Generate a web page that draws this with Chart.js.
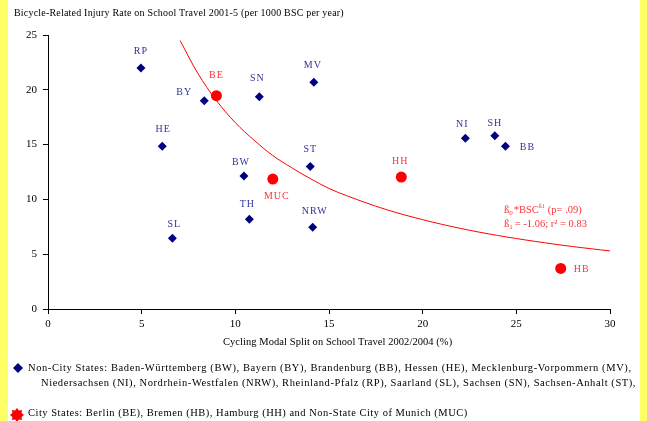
<!DOCTYPE html>
<html>
<head>
<meta charset="utf-8">
<script src="https://cdn.jsdelivr.net/npm/chart.js@4.4.1/dist/chart.umd.min.js"></script>
<style>
  html, body { margin: 0; padding: 0; background: #fff; }
  #wrap { width: 647px; height: 421px; }
</style>
</head>
<body>
<div id="wrap"><canvas id="chart" width="647" height="421"></canvas></div>
<script>
// non-city states
const nonCityLabels = ['RP', 'BY', 'SN', 'MV', 'HE', 'BW', 'ST', 'TH', 'NRW', 'SL', 'NI', 'SH', 'BB'];
const nonCityX = [4.96, 8.34, 11.28, 14.19, 6.10, 10.46, 14.0, 10.75, 14.13, 6.64, 22.28, 23.85, 24.42];
const nonCityY = [22.0, 19.0, 19.37, 20.68, 14.84, 12.14, 13.0, 8.18, 7.45, 6.45, 15.57, 15.81, 14.84];

// city states
const cityLabels = ['BE', 'MUC', 'HH', 'HB'];
const cityX = [8.99, 12.0, 18.86, 27.37];
const cityY = [19.46, 11.86, 12.04, 3.70];

// fitted power curve
const fitX = [7.05, 8, 9, 10, 11, 12, 13, 14, 15, 16, 18, 20, 22, 24, 26, 28, 30];
const fitY = [24.5, 21.5, 19.0, 17.0, 15.4, 14.0, 12.9, 11.9, 11.0, 10.3, 9.1, 8.15, 7.36, 6.71, 6.17, 5.70, 5.30];

const xTitle = 'Cycling Modal Split on School Travel 2002/2004 (%)';
const yTitle = 'Bicycle-Related Injury Rate on School Travel 2001-5 (per 1000 BSC per year)';
const legendLines = [
  'Non-City States: Baden-Württemberg (BW), Bayern (BY), Brandenburg (BB), Hessen (HE), Mecklenburg-Vorpommern (MV),',
  'Niedersachsen (NI), Nordrhein-Westfalen (NRW), Rheinland-Pfalz (RP), Saarland (SL), Sachsen (SN), Sachsen-Anhalt (ST),',
  'City States: Berlin (BE), Bremen (HB), Hamburg (HH) and Non-State City of Munich (MUC)'
];

// label offsets (px) relative to the point
const labelOffsets = {
  RP: [0, -17], BY: [-20, -8], BE: [0, -20], SN: [-2, -18], MV: [-1, -17], HE: [1, -17],
  BW: [-3, -14], ST: [0, -17], TH: [-2, -15], NRW: [2, -16], SL: [2, -14], MUC: [4, 17],
  NI: [-3, -14], SH: [0, -12], BB: [22, 1], HH: [-1, -16], HB: [21, 1]
};

const SERIF = '"Liberation Serif", "DejaVu Serif", serif';
const NAVY = '#000080';
const RED = '#FF0000';

function toPoints(xs, ys) {
  return xs.map((x, i) => ({ x: x, y: ys[i] }));
}

// draw text stretched to a target width with letter spacing
function fitText(ctx, text, x, y, width, font, color) {
  ctx.save();
  ctx.font = font;
  ctx.fillStyle = color;
  ctx.textBaseline = 'middle';
  ctx.textAlign = 'left';
  ctx.letterSpacing = '0px';
  const w = ctx.measureText(text).width;
  const sp = (width - w) / text.length;
  ctx.letterSpacing = sp.toFixed(2) + 'px';
  ctx.fillText(text, x, y);
  ctx.restore();
}

const decor = {
  id: 'decor',
  beforeDraw(chart) {
    const ctx = chart.ctx;
    ctx.save();
    ctx.fillStyle = '#FFFF66';
    ctx.fillRect(0, 0, 8, 421);
    ctx.fillRect(640, 0, 7, 421);
    ctx.restore();
  },
  afterDatasetsDraw(chart) {
    const ctx = chart.ctx;
    const xs = chart.scales.x, ys = chart.scales.y;

    // point labels
    ctx.save();
    ctx.font = '10px ' + SERIF;
    ctx.textAlign = 'center';
    ctx.textBaseline = 'middle';
    ctx.letterSpacing = '1px';
    const drawLabels = (labels, xv, yv, color) => {
      ctx.fillStyle = color;
      labels.forEach((lab, i) => {
        const off = labelOffsets[lab] || [0, -15];
        ctx.fillText(lab, xs.getPixelForValue(xv[i]) + off[0], ys.getPixelForValue(yv[i]) + off[1]);
      });
    };
    drawLabels(nonCityLabels, nonCityX, nonCityY, '#333399');
    drawLabels(cityLabels, cityX, cityY, '#FF3333');
    ctx.restore();

    // regression note
    ctx.save();
    ctx.fillStyle = '#FF3333';
    ctx.textBaseline = 'middle';
    ctx.font = '10.5px ' + SERIF;
    let x = 504;
    ctx.fillText('ß', x, 210); x += ctx.measureText('ß').width;
    ctx.font = '7px ' + SERIF;
    ctx.fillText('0', x, 213); x += ctx.measureText('0').width + 1;
    ctx.font = '10.5px ' + SERIF;
    ctx.fillText('*BSC', x, 210); x += ctx.measureText('*BSC').width;
    ctx.font = '6px ' + SERIF;
    ctx.fillText('ß1', x, 206); x += ctx.measureText('ß1').width + 3;
    ctx.font = '10.5px ' + SERIF;
    ctx.fillText('(p= .09)', x, 210);
    x = 504;
    ctx.fillText('ß', x, 224); x += ctx.measureText('ß').width;
    ctx.font = '7px ' + SERIF;
    ctx.fillText('1', x, 227); x += ctx.measureText('1').width + 2;
    ctx.font = '10.5px ' + SERIF;
    ctx.fillText('= -1.06; r² = 0.83', x, 224);
    ctx.restore();
  },
  afterDraw(chart) {
    const ctx = chart.ctx;
    fitText(ctx, yTitle, 14, 13, 330, '10px ' + SERIF, '#000');
    fitText(ctx, xTitle, 223, 342, 229, '10.5px ' + SERIF, '#000');
    fitText(ctx, legendLines[0], 28, 368, 604, '10.5px ' + SERIF, '#000');
    fitText(ctx, legendLines[1], 41, 383, 595, '10.5px ' + SERIF, '#000');
    fitText(ctx, legendLines[2], 28, 413, 440, '10.5px ' + SERIF, '#000');

    // legend markers
    ctx.save();
    ctx.fillStyle = NAVY;
    ctx.beginPath();
    ctx.moveTo(18, 363); ctx.lineTo(23, 368); ctx.lineTo(18, 373); ctx.lineTo(13, 368);
    ctx.closePath();
    ctx.fill();
    ctx.fillStyle = RED;
    ctx.beginPath();
    for (let i = 0; i < 16; i++) {
      const a = i * Math.PI / 8;
      const r = i % 2 === 0 ? 7 : 5;
      ctx.lineTo(17 + r * Math.cos(a), 415 + r * Math.sin(a));
    }
    ctx.closePath();
    ctx.fill();
    ctx.restore();
  }
};

const axisCommon = {
  border: { display: true, color: '#000', width: 1 },
  grid: { display: true, drawOnChartArea: false, drawTicks: true, tickLength: 5, color: '#000' },
  ticks: { color: '#000', font: { family: SERIF, size: 11 } }
};

new Chart(document.getElementById('chart').getContext('2d'), {
  type: 'scatter',
  data: {
    datasets: [
      {
        type: 'line',
        data: toPoints(fitX, fitY),
        borderColor: RED,
        borderWidth: 1,
        pointRadius: 0,
        tension: 0.35,
        fill: false
      },
      {
        data: toPoints(nonCityX, nonCityY),
        pointStyle: 'rectRot',
        pointRadius: 4.5,
        backgroundColor: NAVY,
        borderColor: NAVY,
        borderWidth: 0
      },
      {
        data: toPoints(cityX, cityY),
        pointStyle: 'circle',
        pointRadius: 5.5,
        backgroundColor: RED,
        borderColor: RED,
        borderWidth: 0
      }
    ]
  },
  options: {
    responsive: false,
    animation: false,
    events: [],
    layout: { padding: { left: 8, right: 37, top: 35, bottom: 92 } },
    plugins: { legend: { display: false }, tooltip: { enabled: false } },
    scales: {
      x: {
        ...axisCommon,
        type: 'linear',
        min: 0, max: 30,
        ticks: { ...axisCommon.ticks, stepSize: 5, padding: 4, maxRotation: 0 },
        afterFit(scale) { scale.height = 20; }
      },
      y: {
        ...axisCommon,
        type: 'linear',
        min: 0, max: 25,
        ticks: { ...axisCommon.ticks, stepSize: 5, padding: 6 },
        afterFit(scale) { scale.width = 40; }
      }
    }
  },
  plugins: [decor]
});
</script>
</body>
</html>
